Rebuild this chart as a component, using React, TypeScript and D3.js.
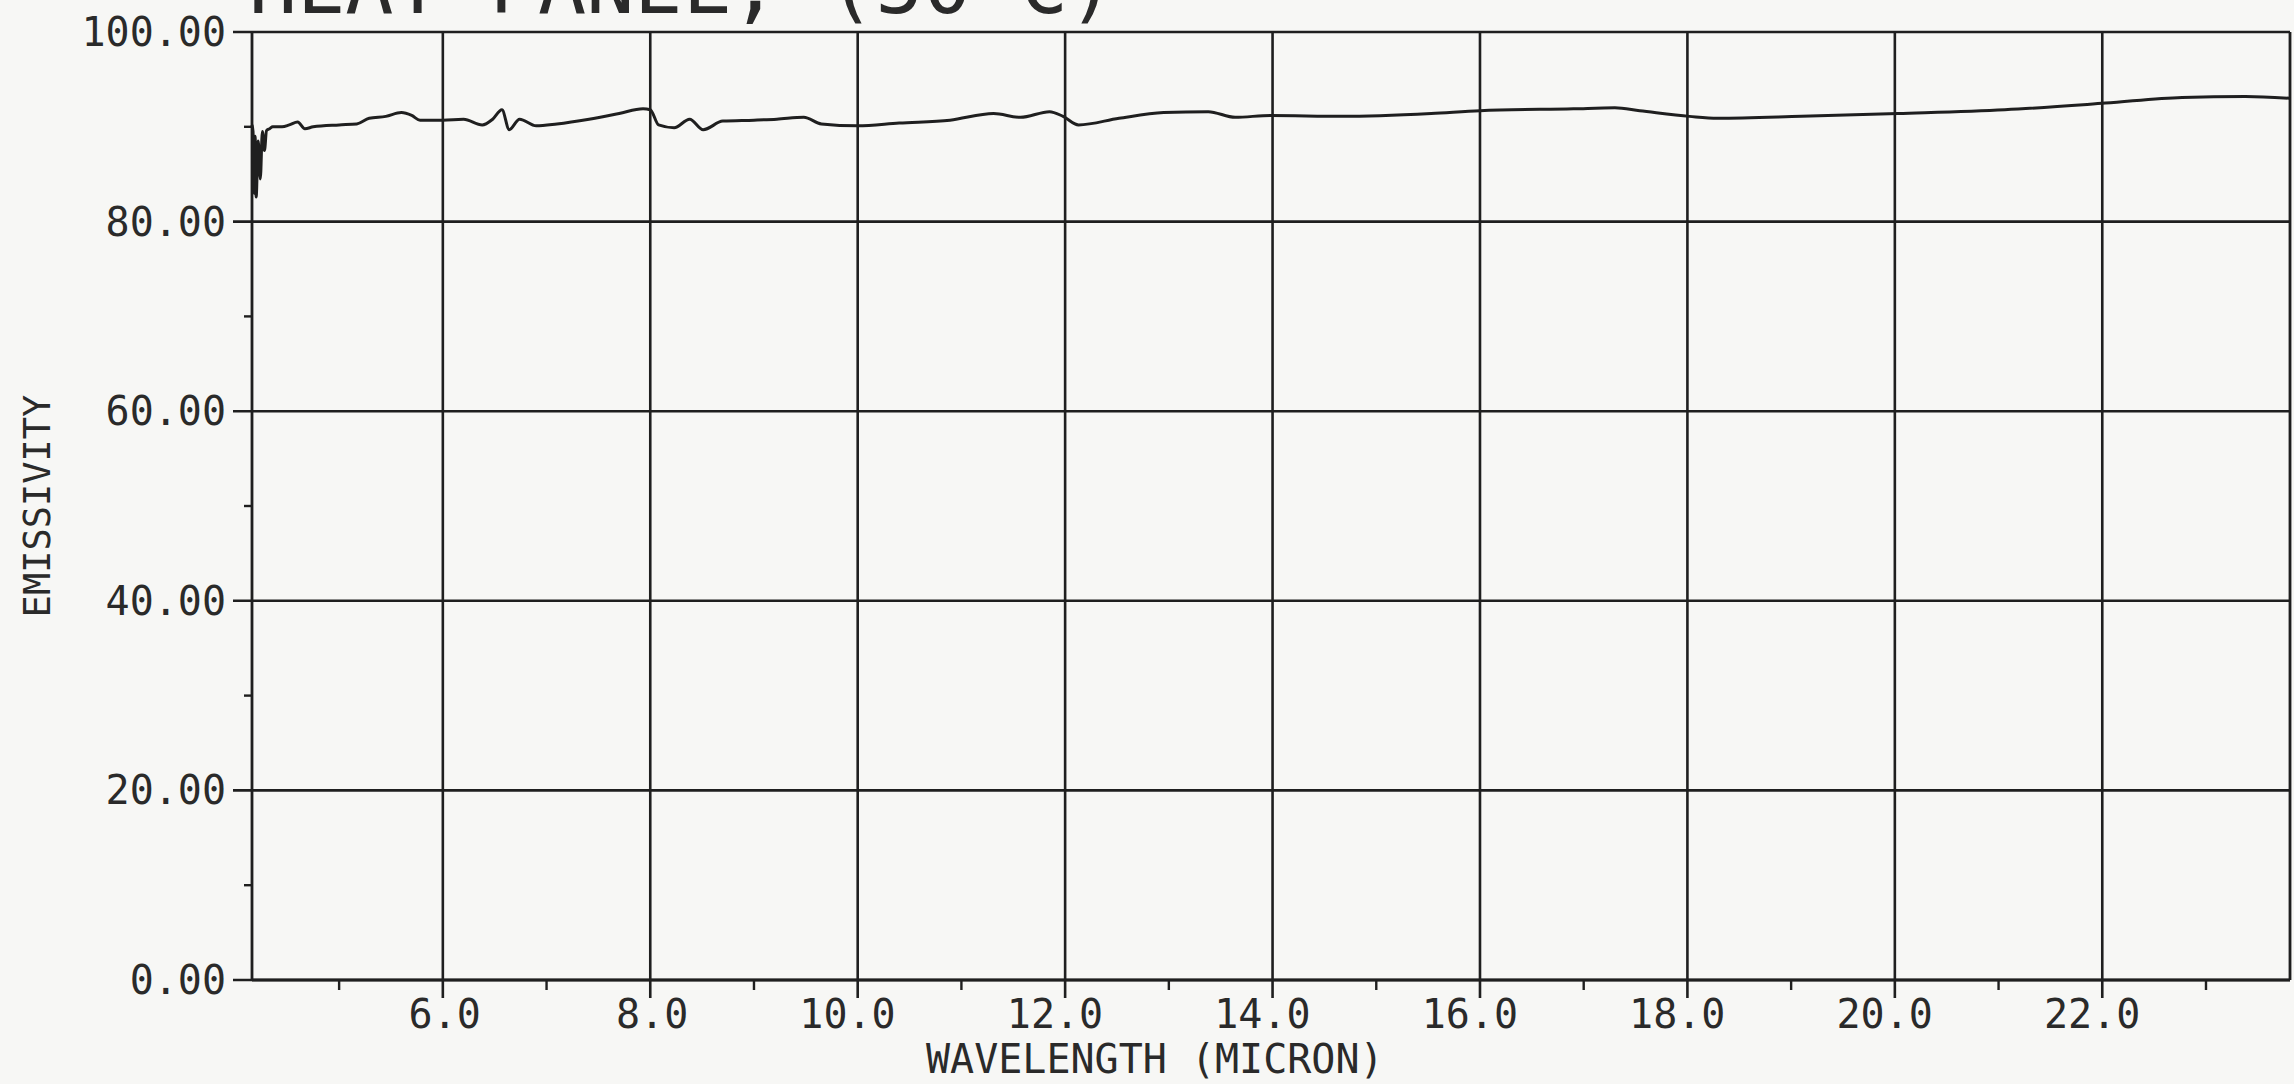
import React from 'react';
import * as d3 from 'd3';

// emissivity spectrum
const wavelength = [
  4.16, 4.17, 4.18, 4.19, 4.2, 4.22, 4.24, 4.26, 4.28, 4.3, 4.33, 4.36, 4.45, 4.52,
  4.6, 4.67, 4.75, 5.0, 5.17, 5.29, 5.45, 5.6, 5.7, 5.78, 6.0, 6.2, 6.38, 6.48,
  6.57, 6.64, 6.74, 6.9, 7.1, 7.41, 7.7, 7.93, 8.0, 8.08, 8.23, 8.38, 8.51, 8.7,
  9.0, 9.22, 9.48, 9.65, 10.0, 10.4, 10.89, 11.31, 11.57, 11.85, 11.98, 12.13,
  12.52, 12.95, 13.38, 13.64, 13.98, 14.67, 15.53, 16.0, 16.9, 17.3, 17.54, 18.02,
  18.29, 19.1, 20.03, 21.06, 22.03, 22.77, 23.38, 23.81,
];
const emissivity = [
  90.2, 89.5, 83.0, 89.0, 82.6, 88.5, 84.5, 89.5, 87.5, 89.6, 89.8, 90.0, 90.0, 90.2,
  90.5, 89.8, 90.0, 90.2, 90.3, 90.9, 91.1, 91.5, 91.2, 90.7, 90.7, 90.8, 90.2, 90.8,
  91.8, 89.7, 90.8, 90.1, 90.3, 90.8, 91.4, 91.9, 91.8, 90.2, 89.9, 90.8, 89.7, 90.6,
  90.7, 90.8, 91.0, 90.3, 90.1, 90.4, 90.7, 91.4, 91.0, 91.6, 91.1, 90.2,
  90.9, 91.5, 91.6, 91.0, 91.2, 91.1, 91.4, 91.7, 91.9, 92.0, 91.7, 91.1,
  90.9, 91.1, 91.4, 91.8, 92.5, 93.1, 93.2, 93.0,
];

const xMajorTicks = [6, 8, 10, 12, 14, 16, 18, 20, 22];
const xMinorTicks = [5, 7, 9, 11, 13, 15, 17, 19, 21, 23];
const yMajorTicks = [0, 20, 40, 60, 80, 100];
const yMinorTicks = [10, 30, 50, 70, 90];

const title = 'HEAT PANEL, (50°C)';
const xTitle = 'WAVELENGTH (MICRON)';
const yTitle = 'EMISSIVITY';

const W = 2294;
const H = 1084;
const left = 252;
const right = 2290;
const top = 32;
const bottom = 980;

const ink = '#1f1f1f';
const textInk = '#2a2a2a';
const font = '"DejaVu Sans Mono", "Liberation Mono", monospace';

export default function App() {
  const x = d3.scaleLinear().domain([4.16, 23.81]).range([left, right]);
  const y = d3.scaleLinear().domain([0, 100]).range([bottom, top]);

  const points = wavelength.map((w, i) => [w, emissivity[i]] as [number, number]);
  const line = d3
    .line<[number, number]>()
    .x(d => x(d[0]))
    .y(d => y(d[1]))
    .curve(d3.curveMonotoneX);

  return (
    <svg width={W} height={H} style={{ position: 'absolute', left: 0, top: 0 }}>
      <rect width={W} height={H} fill="#f7f7f5" />

      {/* title, cut by the top edge like the scan */}
      <text x={249} y={13} fontFamily={font} fontSize={80} fill={textInk}>
        {title}
      </text>

      {/* horizontal grid + left ticks */}
      {yMajorTicks.map(t => (
        <g key={'y' + t}>
          <line x1={left - 19} x2={right} y1={y(t)} y2={y(t)} stroke={ink} strokeWidth={2.6} />
          <text
            x={226}
            y={y(t) + 14}
            textAnchor="end"
            fontFamily={font}
            fontSize={40}
            fill={textInk}
          >
            {t.toFixed(2)}
          </text>
        </g>
      ))}
      {yMinorTicks.map(t => (
        <line key={'ym' + t} x1={left - 8} x2={left} y1={y(t)} y2={y(t)} stroke={ink} strokeWidth={2.4} />
      ))}

      {/* vertical grid + bottom ticks */}
      {xMajorTicks.map(t => (
        <g key={'x' + t}>
          <line x1={x(t)} x2={x(t)} y1={top} y2={bottom + 18} stroke={ink} strokeWidth={2.6} />
          <text
            x={x(t) + 38}
            y={1028}
            textAnchor="end"
            fontFamily={font}
            fontSize={40}
            fill={textInk}
          >
            {t.toFixed(1)}
          </text>
        </g>
      ))}
      {xMinorTicks.map(t => (
        <line key={'xm' + t} x1={x(t)} x2={x(t)} y1={bottom} y2={bottom + 10} stroke={ink} strokeWidth={2.4} />
      ))}

      {/* frame */}
      <line x1={left} x2={left} y1={top} y2={bottom} stroke={ink} strokeWidth={2.8} />
      <line x1={right} x2={right} y1={top} y2={bottom} stroke={ink} strokeWidth={2.8} />
      <line x1={left} x2={right} y1={bottom} y2={bottom} stroke={ink} strokeWidth={3} />

      {/* spectrum */}
      <path d={line(points) || ''} fill="none" stroke={ink} strokeWidth={3} strokeLinejoin="round" />

      {/* axis titles */}
      <text x={926} y={1073} fontFamily={font} fontSize={40} fill={textInk}>
        {xTitle}
      </text>
      <text
        transform={`translate(50,506) rotate(-90)`}
        textAnchor="middle"
        fontFamily={font}
        fontSize={37}
        fill={textInk}
      >
        {yTitle}
      </text>
    </svg>
  );
}
